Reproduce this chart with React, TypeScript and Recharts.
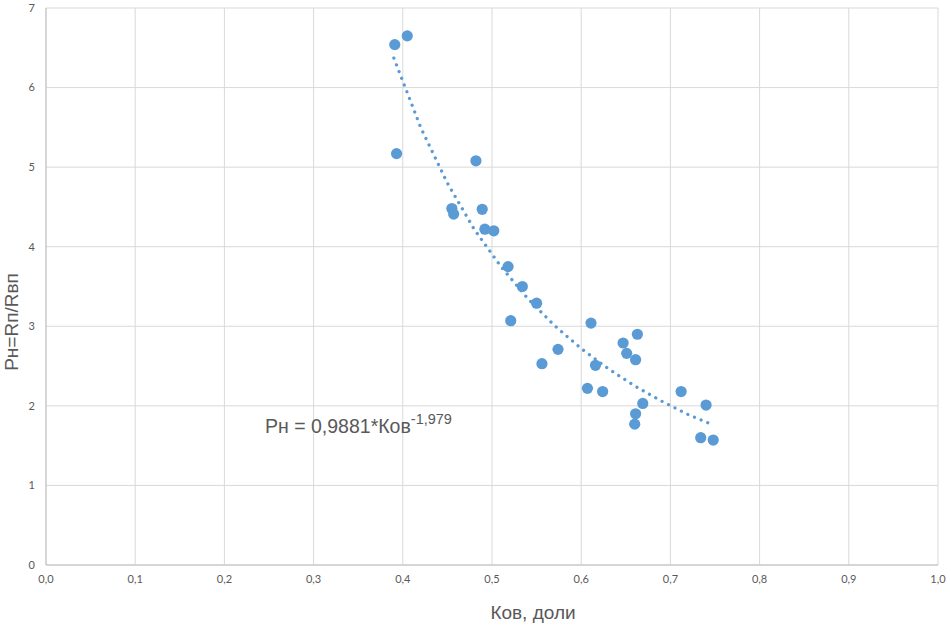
import { ScatterChart, Scatter, XAxis, YAxis, CartesianGrid, Label } from "recharts";

// measured points: Ков (x), Рн (y)
const kov = [
  0.391, 0.405, 0.393, 0.482, 0.455, 0.457, 0.489, 0.492, 0.502, 0.518,
  0.534, 0.55, 0.521, 0.611, 0.574, 0.556, 0.647, 0.663, 0.651, 0.661,
  0.616, 0.607, 0.624, 0.712, 0.669, 0.74, 0.661, 0.66, 0.734, 0.748,
];
const rn = [
  6.54, 6.65, 5.17, 5.08, 4.48, 4.41, 4.47, 4.22, 4.2, 3.75,
  3.5, 3.29, 3.07, 3.04, 2.71, 2.53, 2.79, 2.9, 2.66, 2.58,
  2.51, 2.22, 2.18, 2.18, 2.03, 2.01, 1.9, 1.77, 1.6, 1.57,
];

// power trendline
const trendX = [0.39, 0.42, 0.45, 0.48, 0.51, 0.54, 0.57, 0.6, 0.63, 0.66, 0.69, 0.72, 0.748];
const trendY = [6.37, 5.5, 4.8, 4.22, 3.75, 3.35, 3.01, 2.72, 2.47, 2.25, 2.06, 1.89, 1.76];

const xTicks = [0, 0.1, 0.2, 0.3, 0.4, 0.5, 0.6, 0.7, 0.8, 0.9, 1];
const yTicks = [0, 1, 2, 3, 4, 5, 6, 7];

const BLUE = "#5B9BD5";
const TEXT = "#595959";

const points = kov.map((x, i) => ({ x, y: rn[i] }));
const trend = trendX.map((x, i) => ({ x, y: trendY[i] }));

const tickStyle = { fill: TEXT, fontSize: 11, fontFamily: "Lato, 'Liberation Sans', sans-serif" };

export default function App() {
  return (
    <div style={{ position: "absolute", left: 0, top: 0, background: "#fff" }}>
      <ScatterChart width={951} height={625} margin={{ top: 8, right: 13, bottom: 0, left: 10 }}>
        <CartesianGrid stroke="#d9d9d9" strokeWidth={1} />
        <XAxis
          type="number"
          dataKey="x"
          domain={[0, 1]}
          ticks={xTicks}
          tickFormatter={(v: number) => v.toFixed(1).replace(".", ",")}
          tick={tickStyle}
          tickSize={0}
          tickMargin={10}
          axisLine={{ stroke: "#bfbfbf" }}
          height={60}
        >
          <Label
            position="insideBottom"
            content={() => (
              <text
                x={533}
                y={619}
                textAnchor="middle"
                fill={TEXT}
                fontSize={19}
                fontFamily="'Liberation Sans', Arial, sans-serif"
              >
                Ков, доли
              </text>
            )}
          />
        </XAxis>
        <YAxis
          type="number"
          dataKey="y"
          domain={[0, 7]}
          ticks={yTicks}
          tick={tickStyle}
          tickSize={0}
          tickMargin={11}
          axisLine={{ stroke: "#bfbfbf" }}
          width={36}
        >
          <Label
            position="insideLeft"
            content={() => (
              <text
                x={18}
                y={322}
                transform="rotate(-90, 18, 322)"
                textAnchor="middle"
                fill={TEXT}
                fontSize={19}
                fontFamily="'Liberation Sans', Arial, sans-serif"
              >
                Рн=Rп/Rвп
              </text>
            )}
          />
        </YAxis>
        <Scatter
          data={trend}
          isAnimationActive={false}
          line={{ stroke: BLUE, strokeWidth: 3.3, strokeDasharray: "0.01 7.2", strokeLinecap: "round" }}
          lineType="joint"
          shape={() => <g />}
        />
        <Scatter
          data={points}
          isAnimationActive={false}
          shape={(p: any) => <circle cx={p.cx} cy={p.cy} r={5.6} fill={BLUE} />}
        />
        <text
          x={265}
          y={433}
          fill={TEXT}
          fontSize={19.5}
          fontFamily="'Liberation Sans', Arial, sans-serif"
        >
          Рн = 0,9881*Ков
          <tspan fontSize={14.5} dy={-9}>-1,979</tspan>
        </text>
      </ScatterChart>
    </div>
  );
}
